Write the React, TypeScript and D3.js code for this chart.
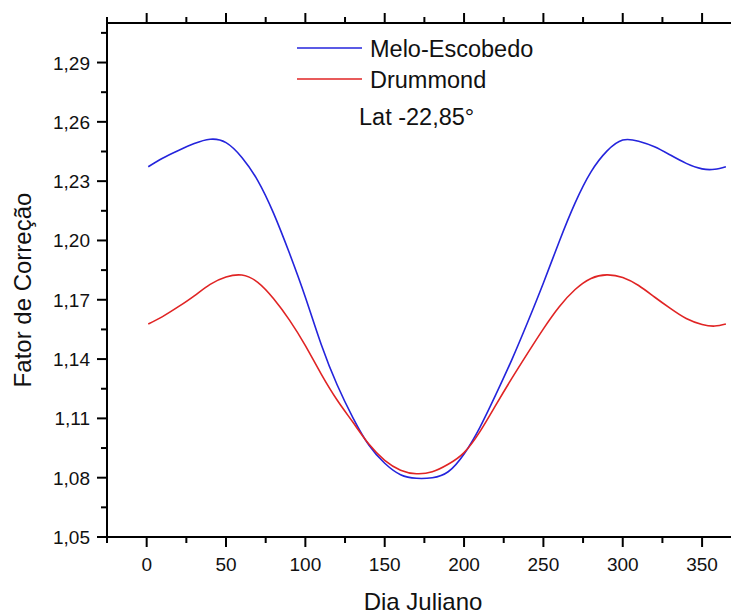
import React from 'react';
import * as d3 from 'd3';

// Julian day samples
const days = [1, 10, 20, 30, 40, 50, 60, 70, 80, 90, 100, 110, 120, 130, 140, 150, 160, 170, 180, 190, 200, 210, 220, 230, 240, 250, 260, 270, 280, 290, 300, 310, 320, 330, 340, 350, 358, 365];

// Melo-Escobedo correction factor
const meloEscobedo = [1.2373, 1.2416, 1.2455, 1.249, 1.2512, 1.2495, 1.242, 1.2303, 1.2137, 1.1935, 1.1713, 1.1474, 1.127, 1.1103, 1.0965, 1.0873, 1.0815, 1.0797, 1.08, 1.083, 1.092, 1.1055, 1.122, 1.1395, 1.1585, 1.1785, 1.1995, 1.219, 1.2347, 1.2452, 1.2508, 1.2502, 1.2474, 1.2432, 1.239, 1.2362, 1.236, 1.2373];

// Drummond correction factor
const drummond = [1.1577, 1.1615, 1.1665, 1.172, 1.1778, 1.1815, 1.1825, 1.1788, 1.1705, 1.1597, 1.1468, 1.1324, 1.1193, 1.108, 1.097, 1.0888, 1.0838, 1.082, 1.083, 1.0868, 1.0927, 1.1033, 1.1167, 1.1301, 1.1429, 1.1553, 1.1665, 1.1752, 1.1808, 1.1826, 1.1813, 1.1772, 1.1714, 1.1656, 1.1605, 1.1575, 1.1567, 1.1577];

const xMajorTicks = [0, 50, 100, 150, 200, 250, 300, 350];
const xMinorTicks = [-25, 25, 75, 125, 175, 225, 275, 325];
const yMajorTicks = [1.05, 1.08, 1.11, 1.14, 1.17, 1.2, 1.23, 1.26, 1.29];
const yMinorTicks = [1.065, 1.095, 1.125, 1.155, 1.185, 1.215, 1.245, 1.275, 1.305];

const seriesNames = ['Melo-Escobedo', 'Drummond'];
const seriesColors = ['#2424dc', '#e02424'];
const latLabel = 'Lat -22,85°';

const width = 731;
const height = 614;
const font = 'Liberation Sans, Arial, sans-serif';

export default function App() {
  const x = d3.scaleLinear().domain([-25, 372]).range([107, 737]);
  const y = d3.scaleLinear().domain([1.05, 1.31]).range([537, 23]);

  const line = d3
    .line<number>()
    .x((_, i) => x(days[i]))
    .y((d) => y(d))
    .curve(d3.curveNatural);

  const fmt = (v: number) => v.toFixed(2).replace('.', ',');
  const [x0, x1] = x.range();
  const [yb, yt] = y.range();

  return (
    <svg width={width} height={height} style={{ position: 'absolute', left: 0, top: 0, background: '#fff' }}>
      {/* curves */}
      <path d={line(meloEscobedo) || ''} fill="none" stroke={seriesColors[0]} strokeWidth={1.6} />
      <path d={line(drummond) || ''} fill="none" stroke={seriesColors[1]} strokeWidth={1.6} />

      {/* axes frame */}
      <g stroke="#000" strokeWidth={2}>
        <line x1={x0} x2={x1} y1={yb} y2={yb} />
        <line x1={x0} x2={x1} y1={yt} y2={yt} />
        <line x1={x0} x2={x0} y1={yb} y2={yt} />
        {xMajorTicks.map((t) => (
          <g key={'xm' + t}>
            <line x1={x(t)} x2={x(t)} y1={yb} y2={yb + 10} />
            <line x1={x(t)} x2={x(t)} y1={yt} y2={yt - 10} />
          </g>
        ))}
        {xMinorTicks.map((t) => (
          <g key={'xn' + t}>
            <line x1={x(t)} x2={x(t)} y1={yb} y2={yb + 6} />
            <line x1={x(t)} x2={x(t)} y1={yt} y2={yt - 6} />
          </g>
        ))}
        {yMajorTicks.map((t) => (
          <line key={'ym' + t} x1={x0} x2={x0 - 10} y1={y(t)} y2={y(t)} />
        ))}
        {yMinorTicks.map((t) => (
          <line key={'yn' + t} x1={x0} x2={x0 - 6} y1={y(t)} y2={y(t)} />
        ))}
      </g>

      {/* tick labels */}
      <g fontFamily={font} fontSize={19} fill="#111">
        {xMajorTicks.map((t) => (
          <text key={'xl' + t} x={x(t)} y={571} textAnchor="middle">
            {t}
          </text>
        ))}
        {yMajorTicks.map((t) => (
          <text key={'yl' + t} x={90} y={y(t) + 7} textAnchor="end">
            {fmt(t)}
          </text>
        ))}
      </g>

      {/* axis titles */}
      <text x={423} y={610} textAnchor="middle" fontFamily={font} fontSize={24} fill="#111">
        Dia Juliano
      </text>
      <text
        transform={`translate(31,290) rotate(-90)`}
        textAnchor="middle"
        fontFamily={font}
        fontSize={24}
        fill="#111"
      >
        Fator de Correção
      </text>

      {/* legend */}
      <g fontFamily={font} fontSize={23.5} fill="#111">
        {seriesNames.map((name, i) => (
          <g key={name} transform={`translate(297,${48 + i * 31})`}>
            <line x1={0} x2={65} y1={0} y2={0} stroke={seriesColors[i]} strokeWidth={1.6} />
            <text x={73} y={8.5}>
              {name}
            </text>
          </g>
        ))}
        <text x={359} y={125}>
          {latLabel}
        </text>
      </g>
    </svg>
  );
}
